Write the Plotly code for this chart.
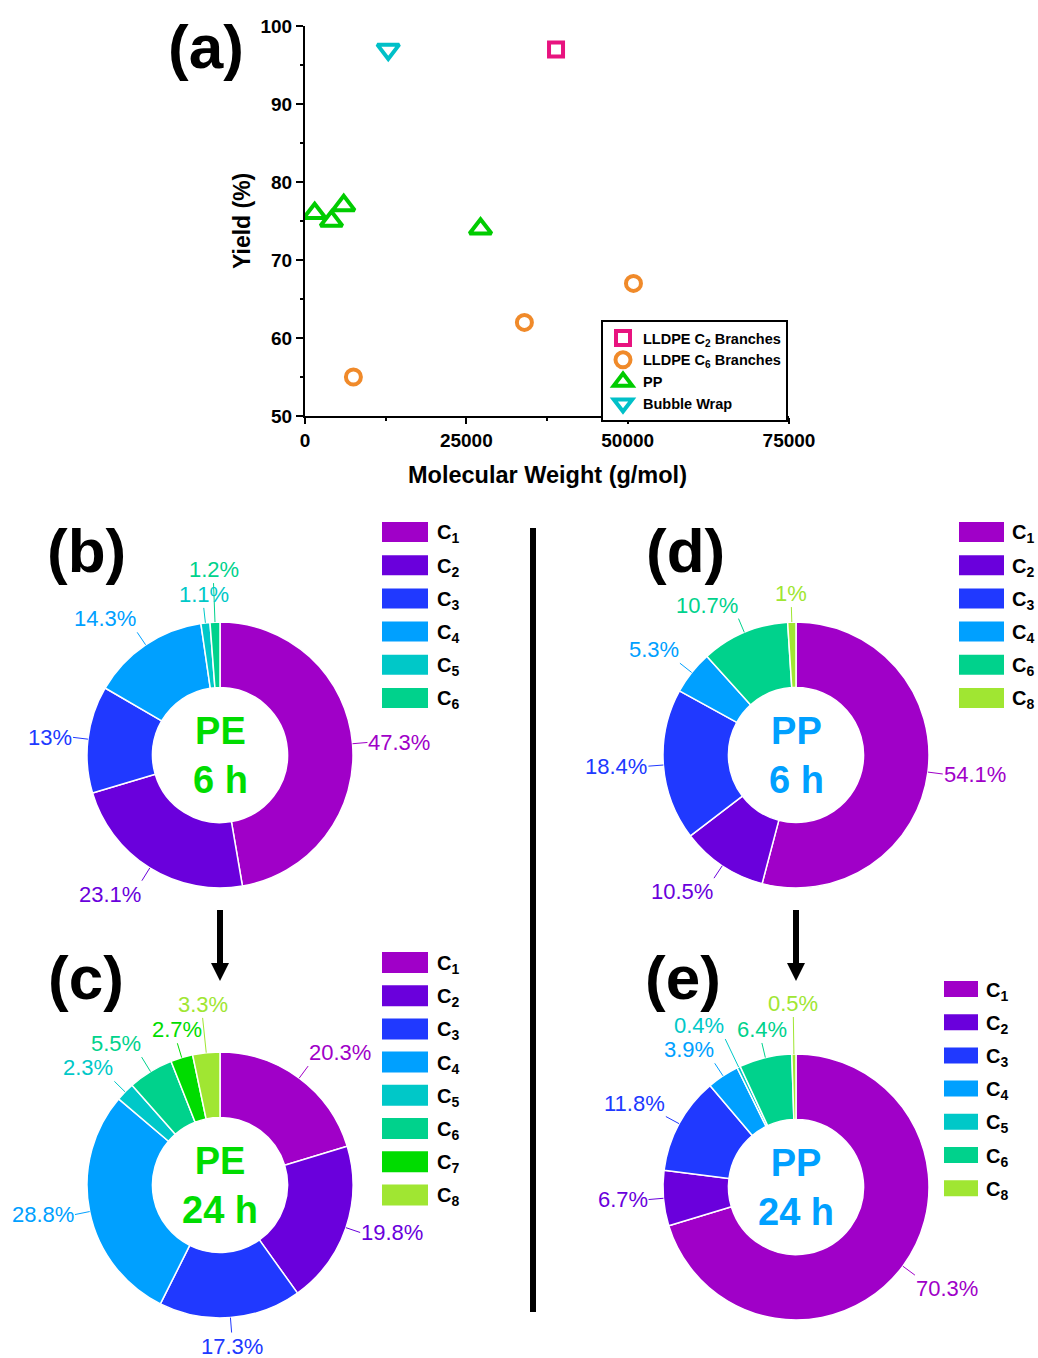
import math
import plotly.graph_objects as go

W, H = 1038, 1358
FONT = "Liberation Sans, Arial, sans-serif"

# ---------------- (a) yield vs molecular weight ----------------
c2_mw = [38900]
c2_yield = [97]
c6_mw = [7500, 34000, 50900]
c6_yield = [55, 62, 67]
pp_mw = [1500, 4100, 6000, 27200]
pp_yield = [76, 75, 77, 74]
bw_mw = [12900]
bw_yield = [97]

x_ticks = [0, 25000, 50000, 75000]
y_ticks = [50, 60, 70, 80, 90, 100]

# ---------------- (b)-(e) product distributions (%) ----------------
pe6_labels = ["C1", "C2", "C3", "C4", "C5", "C6"]
pe6_values = [47.3, 23.1, 13, 14.3, 1.1, 1.2]

pe24_labels = ["C1", "C2", "C3", "C4", "C5", "C6", "C7", "C8"]
pe24_values = [20.3, 19.8, 17.3, 28.8, 2.3, 5.5, 2.7, 3.3]

pp6_labels = ["C1", "C2", "C3", "C4", "C6", "C8"]
pp6_values = [54.1, 10.5, 18.4, 5.3, 10.7, 1]

pp24_labels = ["C1", "C2", "C3", "C4", "C5", "C6", "C8"]
pp24_values = [70.3, 6.7, 11.8, 3.9, 0.4, 6.4, 0.5]

carbon_colors = {
    "C1": "#A000C8", "C2": "#6A00DC", "C3": "#2039FF", "C4": "#00A0FF",
    "C5": "#00C8C8", "C6": "#00D28C", "C7": "#00DC00", "C8": "#A0E632",
}


def fx(px):
    return px / W


def fy(py):
    return 1 - py / H


def note(text, px, py, size, color="black", xanchor="center", yanchor="middle", **kw):
    return dict(text=text, x=fx(px), y=fy(py), xref="paper", yref="paper",
                xanchor=xanchor, yanchor=yanchor, showarrow=False, borderpad=0,
                font=dict(family=FONT, size=size, color=color), **kw)


fig = go.Figure()
shapes = []
annotations = []

# ---------------- scatter panel ----------------
marker_line = 4
fig.add_trace(go.Scatter(
    x=c2_mw, y=c2_yield, mode="markers", name="LLDPE C<sub>2</sub> Branches",
    marker=dict(symbol="square-open", size=14, color="#E8137F", line=dict(width=marker_line))))
fig.add_trace(go.Scatter(
    x=c6_mw, y=c6_yield, mode="markers", name="LLDPE C<sub>6</sub> Branches",
    marker=dict(symbol="circle-open", size=15, color="#F08A2A", line=dict(width=marker_line))))
fig.add_trace(go.Scatter(
    x=pp_mw, y=pp_yield, mode="markers", name="PP",
    marker=dict(symbol="triangle-up-open", size=19, color="#00CC00", line=dict(width=marker_line))))
fig.add_trace(go.Scatter(
    x=bw_mw, y=bw_yield, mode="markers", name="Bubble Wrap",
    marker=dict(symbol="triangle-down-open", size=19, color="#00C0C8", line=dict(width=marker_line))))

axis_font = dict(family=FONT, size=19, color="black", weight="bold")
fig.update_layout(
    xaxis=dict(
        domain=[fx(305), fx(789)], range=[0, 75000], tickvals=x_ticks,
        ticktext=[str(v) for v in x_ticks], showline=True, linecolor="black", linewidth=2,
        ticks="outside", ticklen=6, tickwidth=2, tickcolor="black", showgrid=False,
        zeroline=False, tickfont=axis_font, automargin=False, anchor="y",
        minor=dict(ticks="outside", ticklen=3, tickwidth=2, tickcolor="black", dtick=12500,
                   tick0=0, showgrid=False),
    ),
    yaxis=dict(
        domain=[fy(416), fy(26)], range=[50, 100], tickvals=y_ticks, showline=True,
        linecolor="black", linewidth=2, ticks="outside", ticklen=7, tickwidth=2,
        tickcolor="black", showgrid=False, zeroline=False, tickfont=axis_font,
        automargin=False, anchor="x",
        minor=dict(ticks="outside", ticklen=3, tickwidth=2, tickcolor="black", dtick=5,
                   tick0=50, showgrid=False),
    ),
)

annotations.append(note("<b>Molecular Weight (g/mol)</b>", 547, 475, 23.5))
annotations.append(note("<b>Yield (%)</b>", 242, 221, 23, textangle=-90))

# ---------------- donut panels ----------------
panels = [
    dict(labels=pe6_labels, values=pe6_values, cx=220, cy=755, r=133, center="PE<br>6 h",
         center_color="#00DC00", legend=(382, 428, 522, 20, 436)),
    dict(labels=pe24_labels, values=pe24_values, cx=220, cy=1185, r=133, center="PE<br>24 h",
         center_color="#00DC00", legend=(382, 428, 952, 21, 436)),
    dict(labels=pp6_labels, values=pp6_values, cx=796, cy=755, r=133, center="PP<br>6 h",
         center_color="#00A0FF", legend=(959, 1004, 522, 20, 1011)),
    dict(labels=pp24_labels, values=pp24_values, cx=796, cy=1187, r=133, center="PP<br>24 h",
         center_color="#00A0FF", legend=(944, 978, 981, 16, 985)),
]

LABEL_FS = 22
LEGEND_STEP = 33.2


def text_width(t, fs):
    w = 0
    for ch in t:
        if ch.isdigit():
            w += 0.556
        elif ch == ".":
            w += 0.278
        elif ch == "%":
            w += 0.889
    return w * fs


def overlaps(a, b, pad=2):
    return not (a[2] + pad <= b[0] or b[2] + pad <= a[0] or
                a[3] + pad <= b[1] or b[3] + pad <= a[1])


for p in panels:
    colors = [carbon_colors[l] for l in p["labels"]]
    cx, cy, r = p["cx"], p["cy"], p["r"]
    fig.add_trace(go.Pie(
        labels=p["labels"], values=p["values"], sort=False, direction="clockwise",
        rotation=0, hole=0.508, textinfo="none", showlegend=False,
        marker=dict(colors=colors, line=dict(color="white", width=1.5)),
        domain=dict(x=[fx(cx - r), fx(cx + r)], y=[fy(cy + r), fy(cy - r)]),
    ))

    # percentage labels with short radial leader lines
    total = sum(p["values"])
    cum = 0.0
    placed = []
    for v, col in zip(p["values"], colors):
        ang = (cum + v / 2) / total * 2 * math.pi
        cum += v
        s, c = math.sin(ang), math.cos(ang)
        ex, ey = cx + r * s, cy - r * c
        txt = f"{v:g}%"
        tw, th = text_width(txt, LABEL_FS), LABEL_FS
        xa = "center" if abs(s) < 0.3 else ("left" if s > 0 else "right")
        ya = "middle" if abs(c) < 0.4 else ("bottom" if c > 0 else "top")
        lead = 15
        while True:
            tx, ty = cx + (r + lead) * s, cy - (r + lead) * c
            x0 = tx - tw / 2 if xa == "center" else (tx if xa == "left" else tx - tw)
            y0 = ty - th / 2 if ya == "middle" else (ty if ya == "top" else ty - th)
            box = (x0, y0, x0 + tw, y0 + th)
            if not any(overlaps(box, b) for b in placed) or lead > 120:
                break
            lead += 2
        placed.append(box)
        shapes.append(dict(type="line", xref="paper", yref="paper",
                           x0=fx(ex), y0=fy(ey), x1=fx(tx), y1=fy(ty),
                           line=dict(color=col, width=1)))
        annotations.append(note(txt, tx, ty, LABEL_FS, color=col, xanchor=xa, yanchor=ya))

    # centre caption
    annotations.append(note(f"<b>{p['center']}</b>", cx, cy, 38, color=p["center_color"]))

    # colour key
    lx0, lx1, ly0, lh, ltx = p["legend"]
    for i, (lab, col) in enumerate(zip(p["labels"], colors)):
        top = ly0 + i * LEGEND_STEP
        shapes.append(dict(type="rect", xref="paper", yref="paper",
                           x0=fx(lx0), x1=fx(lx1), y0=fy(top + lh), y1=fy(top),
                           fillcolor=col, line=dict(width=0)))
        annotations.append(note(f"<b>C<sub>{lab[1:]}</sub></b>", ltx, top + lh / 2 + 2, 20,
                                xanchor="left"))

# ---------------- panel letters ----------------
for letter, px, py in [("(a)", 206, 47), ("(b)", 86, 550), ("(c)", 86, 977),
                       ("(d)", 685, 550), ("(e)", 683, 977)]:
    annotations.append(note(f"<b>{letter}</b>", px, py, 62))

# ---------------- arrows and divider ----------------
for ax_px in (220, 796):
    shapes.append(dict(type="line", xref="paper", yref="paper", x0=fx(ax_px), x1=fx(ax_px),
                       y0=fy(910), y1=fy(966), line=dict(color="black", width=6)))
    shapes.append(dict(type="path", xref="paper", yref="paper",
                       path=(f"M {fx(ax_px - 9)} {fy(963)} L {fx(ax_px + 9)} {fy(963)} "
                             f"L {fx(ax_px)} {fy(981)} Z"),
                       fillcolor="black", line=dict(width=0)))
shapes.append(dict(type="line", xref="paper", yref="paper", x0=fx(533), x1=fx(533),
                   y0=fy(528), y1=fy(1312), line=dict(color="black", width=6)))

fig.update_layout(
    width=W, height=H, margin=dict(l=0, r=0, t=0, b=0),
    paper_bgcolor="white", plot_bgcolor="white",
    font=dict(family=FONT, color="black"),
    shapes=shapes, annotations=annotations,
    legend=dict(x=fx(601), y=fy(320), xanchor="left", yanchor="top",
                bordercolor="black", borderwidth=2, bgcolor="white",
                font=dict(family=FONT, size=14.5, color="black", weight="bold")),
)

fig.write_html("out.html")
